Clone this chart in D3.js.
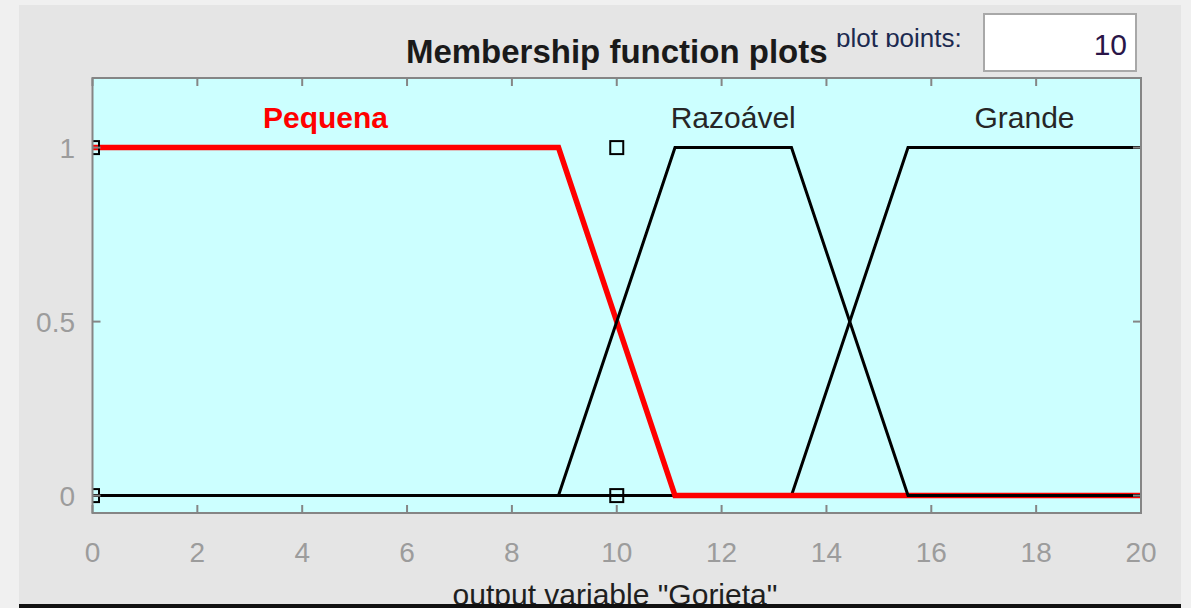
<!DOCTYPE html>
<html>
<head>
<meta charset="utf-8">
<script src="https://cdn.jsdelivr.net/npm/d3@7"></script>
<style>
  html, body { margin: 0; padding: 0; background: #f0f0f0; }
  svg { display: block; }
  text { font-family: "Liberation Sans", Arial, sans-serif; }
</style>
</head>
<body>
<svg id="chart" width="1191" height="608"></svg>
<script>
// Output variable range and axis ticks
const xDomain = [0, 20];
const yDomain = [-0.05, 1.2];
const xTicks = [0, 2, 4, 6, 8, 10, 12, 14, 16, 18, 20];
const yTicks = [0, 0.5, 1];
const yTickLabels = ["0", "0.5", "1"];

// Membership functions (breakpoints and membership degrees)
const mfNames = ["Pequena", "Razoável", "Grande"];
const pequenaX = [0, 8.889, 11.111, 20];
const pequenaY = [1, 1, 0, 0];
const razoavelX = [0, 8.889, 11.111, 13.333, 15.556, 20];
const razoavelY = [0, 0, 1, 1, 0, 0];
const grandeX = [0, 13.333, 15.556, 20];
const grandeY = [0, 0, 1, 1];

// Label anchor: middle of each function's plateau
const labelX = [4.444, 12.222, 17.778];
const labelLevel = 1.055;

// Square handles
const handleX = [0, 0, 10, 10];
const handleY = [1, 0, 1, 0];

const plotPoints = "10";
const titleText = "Membership function plots";
const xLabelText = 'output variable "Gorieta"';

const svg = d3.select("#chart");

// Window panel
svg.append("rect").attr("x", 0).attr("y", 0).attr("width", 1191).attr("height", 608).attr("fill", "#f0f0f0");
svg.append("rect").attr("x", 19).attr("y", 5).attr("width", 1162).attr("height", 603).attr("fill", "#e5e5e5");

const box = { left: 92.5, right: 1141, top: 78, bottom: 513 };
const x = d3.scaleLinear().domain(xDomain).range([box.left, box.right]);
const y = d3.scaleLinear().domain(yDomain).range([box.bottom, box.top]);
const bw = box.right - box.left, bh = box.bottom - box.top;

// Plot background
svg.append("rect").attr("x", box.left).attr("y", box.top).attr("width", bw).attr("height", bh).attr("fill", "#ccffff");

svg.append("clipPath").attr("id", "plotClip")
  .append("rect").attr("x", box.left).attr("y", box.top).attr("width", bw).attr("height", bh);

const plot = svg.append("g").attr("clip-path", "url(#plotClip)");
const line = d3.line().x(d => x(d[0])).y(d => y(d[1]));
const zip = (xs, ys) => xs.map((v, i) => [v, ys[i]]);

const series = [
  { name: mfNames[2], pts: zip(grandeX, grandeY), color: "#000", w: 3 },
  { name: mfNames[0], pts: zip(pequenaX, pequenaY), color: "#ff0000", w: 5.5 },
  { name: mfNames[1], pts: zip(razoavelX, razoavelY), color: "#000", w: 3 }
];
plot.selectAll("path.mf").data(series).join("path")
  .attr("class", "mf")
  .attr("d", d => line(d.pts))
  .attr("fill", "none")
  .attr("stroke", d => d.color)
  .attr("stroke-width", d => d.w)
  .attr("stroke-linejoin", "miter");

// Handles
plot.selectAll("rect.handle").data(handleX.map((v, i) => [v, handleY[i]])).join("rect")
  .attr("class", "handle")
  .attr("x", d => x(d[0]) - 6.5).attr("y", d => y(d[1]) - 6.5)
  .attr("width", 13).attr("height", 13)
  .attr("fill", "none").attr("stroke", "#000").attr("stroke-width", 2);

// Function labels
const labelColors = ["#ff0000", "#262626", "#262626"];
const labelWeights = ["bold", "normal", "normal"];
svg.selectAll("text.mflabel").data(mfNames).join("text")
  .attr("class", "mflabel")
  .attr("x", (d, i) => x(labelX[i]))
  .attr("y", y(labelLevel))
  .attr("text-anchor", "middle")
  .attr("font-size", 30)
  .attr("font-weight", (d, i) => labelWeights[i])
  .attr("fill", (d, i) => labelColors[i])
  .text(d => d);

// Axes frame and inward ticks
const axisColor = "#858585";
const tickLen = 8;
const frame = svg.append("g").attr("stroke", axisColor).attr("stroke-width", 2);
frame.append("rect").attr("x", box.left).attr("y", box.top).attr("width", bw).attr("height", bh).attr("fill", "none");
xTicks.forEach(t => {
  frame.append("line").attr("x1", x(t)).attr("x2", x(t)).attr("y1", box.bottom).attr("y2", box.bottom - tickLen);
  frame.append("line").attr("x1", x(t)).attr("x2", x(t)).attr("y1", box.top).attr("y2", box.top + tickLen);
});
yTicks.forEach(t => {
  frame.append("line").attr("x1", box.left).attr("x2", box.left + tickLen).attr("y1", y(t)).attr("y2", y(t));
  frame.append("line").attr("x1", box.right).attr("x2", box.right - tickLen).attr("y1", y(t)).attr("y2", y(t));
});

// Tick labels
const tickColor = "#9c9c9c";
svg.selectAll("text.xt").data(xTicks).join("text")
  .attr("class", "xt")
  .attr("x", d => x(d)).attr("y", 562)
  .attr("text-anchor", "middle").attr("font-size", 28).attr("fill", tickColor)
  .text(d => d);
svg.selectAll("text.yt").data(yTicks).join("text")
  .attr("class", "yt")
  .attr("x", 75).attr("y", d => y(d) + 10)
  .attr("text-anchor", "end").attr("font-size", 28).attr("fill", tickColor)
  .text((d, i) => yTickLabels[i]);

// Title
svg.append("text")
  .attr("x", (box.left + box.right) / 2).attr("y", 63)
  .attr("text-anchor", "middle").attr("font-size", 33).attr("font-weight", "bold").attr("fill", "#1a1a1a")
  .text(titleText);

// Plot points control (label box clips the descenders)
svg.append("clipPath").attr("id", "ppClip")
  .append("rect").attr("x", 830).attr("y", 20).attr("width", 150).attr("height", 27);
svg.append("text")
  .attr("clip-path", "url(#ppClip)")
  .attr("x", 836).attr("y", 47)
  .attr("font-size", 26).attr("fill", "#1c2a50")
  .text("plot points:");
svg.append("rect").attr("x", 984).attr("y", 14).attr("width", 152).attr("height", 57)
  .attr("fill", "#ffffff").attr("stroke", "#a8a8a8").attr("stroke-width", 2);
svg.append("text")
  .attr("x", 1127).attr("y", 55)
  .attr("text-anchor", "end").attr("font-size", 30).attr("fill", "#2a1548")
  .text(plotPoints);

// X axis label
svg.append("text")
  .attr("x", 615).attr("y", 605)
  .attr("text-anchor", "middle").attr("font-size", 30).attr("fill", "#1f1f1f")
  .text(xLabelText);

// Bottom edge of the panel
svg.append("rect").attr("x", 19).attr("y", 604).attr("width", 1162).attr("height", 4).attr("fill", "#111");
</script>
</body>
</html>
